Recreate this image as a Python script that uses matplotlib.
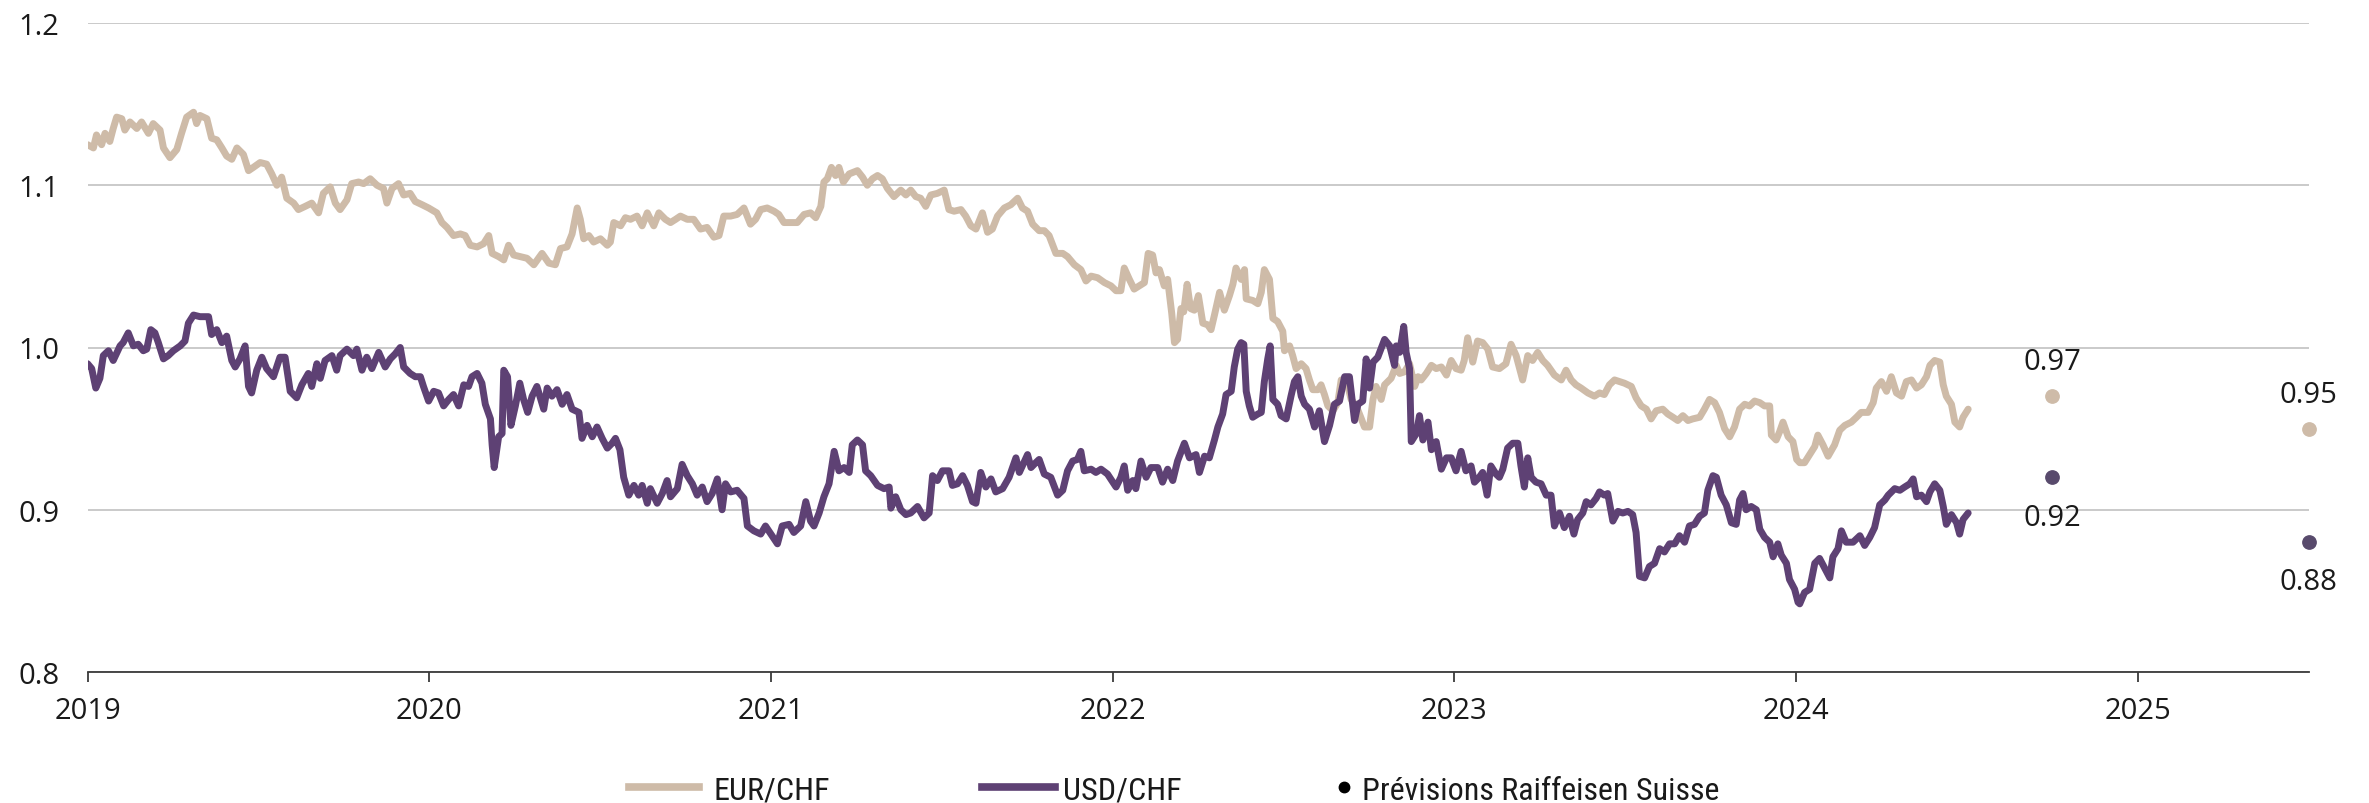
import matplotlib
matplotlib.use("Agg")
import matplotlib.pyplot as plt
from matplotlib import font_manager
from matplotlib.lines import Line2D

# ---------------- data (decimal year, rate) ----------------
eur_chf = [
    (2019.000, 1.125), (2019.017, 1.123), (2019.026, 1.131), (2019.041, 1.125), (2019.051, 1.132),
    (2019.065, 1.127), (2019.075, 1.135), (2019.085, 1.142), (2019.100, 1.141), (2019.109, 1.134),
    (2019.124, 1.139), (2019.144, 1.135), (2019.158, 1.139), (2019.178, 1.132), (2019.192, 1.138),
    (2019.212, 1.134), (2019.222, 1.123), (2019.241, 1.117), (2019.261, 1.122), (2019.275, 1.132),
    (2019.290, 1.142), (2019.310, 1.145), (2019.319, 1.138), (2019.329, 1.143), (2019.349, 1.141),
    (2019.363, 1.129), (2019.378, 1.128), (2019.393, 1.123), (2019.407, 1.118), (2019.422, 1.116),
    (2019.437, 1.123), (2019.456, 1.119), (2019.471, 1.109), (2019.485, 1.111), (2019.505, 1.114),
    (2019.524, 1.113), (2019.539, 1.107), (2019.554, 1.100), (2019.568, 1.105), (2019.583, 1.092),
    (2019.603, 1.089), (2019.617, 1.085), (2019.637, 1.087), (2019.656, 1.089), (2019.676, 1.083),
    (2019.690, 1.095), (2019.710, 1.099), (2019.725, 1.089), (2019.739, 1.085), (2019.759, 1.091),
    (2019.773, 1.101), (2019.793, 1.102), (2019.808, 1.101), (2019.827, 1.104), (2019.847, 1.100),
    (2019.866, 1.098), (2019.876, 1.089), (2019.891, 1.098), (2019.910, 1.101), (2019.925, 1.094),
    (2019.944, 1.095), (2019.959, 1.090), (2019.979, 1.088), (2019.998, 1.086),
    (2020.022, 1.083), (2020.037, 1.077), (2020.052, 1.074), (2020.071, 1.069), (2020.091, 1.070),
    (2020.105, 1.069), (2020.120, 1.063), (2020.140, 1.062), (2020.159, 1.064), (2020.174, 1.069),
    (2020.184, 1.058), (2020.203, 1.056), (2020.218, 1.054), (2020.232, 1.063), (2020.247, 1.057),
    (2020.267, 1.056), (2020.286, 1.055), (2020.306, 1.051), (2020.330, 1.058), (2020.350, 1.052),
    (2020.369, 1.051), (2020.384, 1.061), (2020.403, 1.062), (2020.418, 1.070), (2020.433, 1.086),
    (2020.442, 1.079), (2020.452, 1.067), (2020.467, 1.069), (2020.481, 1.065), (2020.501, 1.067),
    (2020.521, 1.063), (2020.530, 1.065), (2020.540, 1.077), (2020.560, 1.075), (2020.574, 1.080),
    (2020.589, 1.079), (2020.608, 1.081), (2020.623, 1.075), (2020.638, 1.083), (2020.657, 1.075),
    (2020.672, 1.083), (2020.691, 1.079), (2020.706, 1.077), (2020.721, 1.079), (2020.735, 1.081),
    (2020.755, 1.079), (2020.774, 1.079), (2020.794, 1.073), (2020.813, 1.074), (2020.833, 1.068),
    (2020.848, 1.069), (2020.862, 1.081), (2020.882, 1.081), (2020.901, 1.082), (2020.921, 1.086),
    (2020.940, 1.076), (2020.955, 1.079), (2020.970, 1.085), (2020.989, 1.086),
    (2021.009, 1.084), (2021.023, 1.082), (2021.038, 1.077), (2021.058, 1.077), (2021.077, 1.077),
    (2021.097, 1.082), (2021.116, 1.083), (2021.131, 1.080), (2021.146, 1.087), (2021.155, 1.102),
    (2021.165, 1.104), (2021.177, 1.111), (2021.189, 1.106), (2021.199, 1.111), (2021.212, 1.102),
    (2021.229, 1.107), (2021.253, 1.109), (2021.268, 1.105), (2021.282, 1.100), (2021.297, 1.104),
    (2021.312, 1.106), (2021.326, 1.104), (2021.341, 1.098), (2021.360, 1.093), (2021.380, 1.097),
    (2021.395, 1.094), (2021.409, 1.097), (2021.424, 1.093), (2021.438, 1.092), (2021.453, 1.087),
    (2021.468, 1.094), (2021.487, 1.095), (2021.507, 1.097), (2021.521, 1.085), (2021.536, 1.084),
    (2021.556, 1.085), (2021.570, 1.081), (2021.585, 1.075), (2021.600, 1.073), (2021.619, 1.083),
    (2021.634, 1.071), (2021.648, 1.073), (2021.663, 1.081), (2021.683, 1.086), (2021.702, 1.088),
    (2021.722, 1.092), (2021.736, 1.086), (2021.751, 1.084), (2021.766, 1.076), (2021.785, 1.072),
    (2021.800, 1.072), (2021.814, 1.069), (2021.834, 1.058), (2021.854, 1.058), (2021.868, 1.056),
    (2021.888, 1.051), (2021.907, 1.048), (2021.922, 1.041), (2021.937, 1.044), (2021.956, 1.043),
    (2021.976, 1.040), (2021.995, 1.038),
    (2022.010, 1.035), (2022.024, 1.035), (2022.034, 1.049), (2022.049, 1.042), (2022.063, 1.036),
    (2022.078, 1.038), (2022.093, 1.040), (2022.104, 1.058), (2022.117, 1.057), (2022.127, 1.046),
    (2022.137, 1.048), (2022.151, 1.038), (2022.161, 1.042), (2022.173, 1.021), (2022.181, 1.003),
    (2022.190, 1.005), (2022.200, 1.024), (2022.208, 1.022), (2022.218, 1.039), (2022.228, 1.024),
    (2022.239, 1.023), (2022.251, 1.032), (2022.264, 1.015), (2022.278, 1.014), (2022.288, 1.011),
    (2022.298, 1.020), (2022.313, 1.034), (2022.327, 1.023), (2022.342, 1.032), (2022.352, 1.039),
    (2022.361, 1.049), (2022.376, 1.042), (2022.386, 1.048), (2022.391, 1.030), (2022.410, 1.029),
    (2022.425, 1.027), (2022.435, 1.034), (2022.444, 1.048), (2022.459, 1.042), (2022.469, 1.018),
    (2022.483, 1.016), (2022.498, 1.010), (2022.503, 0.998), (2022.518, 1.001), (2022.527, 0.995),
    (2022.537, 0.987), (2022.552, 0.990), (2022.566, 0.987), (2022.576, 0.980), (2022.586, 0.974),
    (2022.601, 0.974), (2022.610, 0.977), (2022.620, 0.971), (2022.630, 0.964), (2022.645, 0.961),
    (2022.659, 0.966), (2022.669, 0.980), (2022.684, 0.980), (2022.698, 0.968), (2022.713, 0.964),
    (2022.728, 0.956), (2022.737, 0.951), (2022.752, 0.951), (2022.762, 0.968), (2022.771, 0.976),
    (2022.786, 0.968), (2022.796, 0.977), (2022.815, 0.981), (2022.830, 0.989), (2022.840, 0.984),
    (2022.854, 0.985), (2022.869, 0.990), (2022.884, 0.976), (2022.894, 0.982), (2022.903, 0.980),
    (2022.918, 0.984), (2022.933, 0.989), (2022.947, 0.987), (2022.962, 0.988), (2022.977, 0.983),
    (2022.991, 0.992),
    (2023.005, 0.987), (2023.020, 0.986), (2023.029, 0.992), (2023.039, 1.006), (2023.054, 0.991),
    (2023.068, 1.004), (2023.083, 1.003), (2023.098, 0.999), (2023.112, 0.988), (2023.132, 0.987),
    (2023.151, 0.990), (2023.166, 1.002), (2023.181, 0.995), (2023.200, 0.980), (2023.215, 0.995),
    (2023.229, 0.992), (2023.244, 0.997), (2023.259, 0.992), (2023.273, 0.989), (2023.293, 0.983),
    (2023.313, 0.980), (2023.327, 0.986), (2023.342, 0.980), (2023.356, 0.977), (2023.371, 0.975),
    (2023.391, 0.972), (2023.410, 0.970), (2023.425, 0.972), (2023.439, 0.971), (2023.454, 0.977),
    (2023.469, 0.980), (2023.483, 0.979), (2023.498, 0.978), (2023.518, 0.976), (2023.532, 0.969),
    (2023.547, 0.964), (2023.562, 0.962), (2023.576, 0.956), (2023.591, 0.961), (2023.610, 0.962),
    (2023.625, 0.959), (2023.640, 0.957), (2023.654, 0.955), (2023.669, 0.958), (2023.684, 0.955),
    (2023.698, 0.956), (2023.718, 0.957), (2023.732, 0.962), (2023.747, 0.968), (2023.762, 0.966),
    (2023.776, 0.960), (2023.791, 0.950), (2023.806, 0.945), (2023.820, 0.951), (2023.835, 0.962),
    (2023.850, 0.965), (2023.864, 0.964), (2023.879, 0.967), (2023.894, 0.966), (2023.908, 0.964),
    (2023.923, 0.964), (2023.928, 0.946), (2023.942, 0.943), (2023.952, 0.948), (2023.962, 0.954),
    (2023.977, 0.945), (2023.991, 0.942), (2024.002, 0.931),
    (2024.011, 0.929), (2024.025, 0.929), (2024.040, 0.934), (2024.055, 0.939), (2024.064, 0.946),
    (2024.079, 0.940), (2024.094, 0.933), (2024.113, 0.940), (2024.128, 0.949), (2024.143, 0.952),
    (2024.162, 0.954), (2024.177, 0.957), (2024.191, 0.960), (2024.211, 0.960), (2024.226, 0.966),
    (2024.235, 0.975), (2024.250, 0.979), (2024.265, 0.973), (2024.279, 0.982), (2024.294, 0.972),
    (2024.309, 0.970), (2024.323, 0.979), (2024.338, 0.980), (2024.353, 0.975), (2024.367, 0.977),
    (2024.382, 0.982), (2024.392, 0.989), (2024.406, 0.992), (2024.421, 0.991), (2024.431, 0.977),
    (2024.440, 0.970), (2024.455, 0.965), (2024.465, 0.954), (2024.479, 0.951), (2024.489, 0.957),
    (2024.504, 0.962),
]

usd_chf = [
    (2019.000, 0.990), (2019.012, 0.987), (2019.024, 0.975), (2019.036, 0.981), (2019.046, 0.995),
    (2019.061, 0.998), (2019.075, 0.992), (2019.095, 1.001), (2019.104, 1.003), (2019.119, 1.009),
    (2019.134, 1.001), (2019.148, 1.002), (2019.163, 0.998), (2019.173, 0.999), (2019.185, 1.011),
    (2019.197, 1.009), (2019.207, 1.003), (2019.222, 0.993), (2019.236, 0.995), (2019.251, 0.998),
    (2019.271, 1.001), (2019.285, 1.004), (2019.295, 1.015), (2019.310, 1.020), (2019.329, 1.019),
    (2019.344, 1.019), (2019.354, 1.019), (2019.363, 1.008), (2019.378, 1.011), (2019.393, 1.003),
    (2019.407, 1.007), (2019.422, 0.992), (2019.432, 0.988), (2019.446, 0.993), (2019.461, 1.001),
    (2019.471, 0.976), (2019.480, 0.972), (2019.495, 0.986), (2019.510, 0.994), (2019.524, 0.987),
    (2019.544, 0.982), (2019.563, 0.994), (2019.578, 0.994), (2019.593, 0.973), (2019.612, 0.969),
    (2019.627, 0.977), (2019.646, 0.984), (2019.656, 0.976), (2019.671, 0.990), (2019.681, 0.981),
    (2019.695, 0.992), (2019.715, 0.995), (2019.729, 0.986), (2019.739, 0.995), (2019.759, 0.999),
    (2019.778, 0.995), (2019.788, 0.999), (2019.803, 0.986), (2019.817, 0.994), (2019.832, 0.987),
    (2019.852, 0.997), (2019.871, 0.988), (2019.886, 0.993), (2019.900, 0.996), (2019.915, 1.000),
    (2019.925, 0.988), (2019.944, 0.984), (2019.959, 0.982), (2019.974, 0.982), (2019.983, 0.976),
    (2019.998, 0.967),
    (2020.013, 0.973), (2020.027, 0.972), (2020.042, 0.964), (2020.057, 0.968), (2020.071, 0.971),
    (2020.086, 0.964), (2020.101, 0.977), (2020.115, 0.976), (2020.125, 0.982), (2020.140, 0.984),
    (2020.154, 0.978), (2020.164, 0.965), (2020.179, 0.956), (2020.184, 0.940), (2020.190, 0.926),
    (2020.203, 0.945), (2020.213, 0.947), (2020.218, 0.986), (2020.229, 0.982), (2020.239, 0.952),
    (2020.252, 0.964), (2020.265, 0.978), (2020.276, 0.968), (2020.288, 0.960), (2020.301, 0.970),
    (2020.315, 0.976), (2020.335, 0.962), (2020.345, 0.975), (2020.359, 0.970), (2020.374, 0.974),
    (2020.389, 0.965), (2020.403, 0.971), (2020.418, 0.962), (2020.438, 0.960), (2020.447, 0.944),
    (2020.462, 0.952), (2020.477, 0.945), (2020.491, 0.951), (2020.506, 0.944), (2020.521, 0.938),
    (2020.535, 0.941), (2020.545, 0.944), (2020.558, 0.937), (2020.569, 0.920), (2020.584, 0.909),
    (2020.599, 0.915), (2020.613, 0.909), (2020.623, 0.915), (2020.638, 0.904), (2020.647, 0.913),
    (2020.667, 0.904), (2020.682, 0.910), (2020.696, 0.918), (2020.706, 0.908), (2020.726, 0.913),
    (2020.740, 0.928), (2020.755, 0.921), (2020.770, 0.916), (2020.784, 0.909), (2020.799, 0.914),
    (2020.813, 0.905), (2020.828, 0.910), (2020.843, 0.919), (2020.857, 0.900), (2020.867, 0.916),
    (2020.882, 0.911), (2020.901, 0.912), (2020.921, 0.907), (2020.931, 0.890), (2020.950, 0.887),
    (2020.970, 0.885), (2020.984, 0.890),
    (2021.000, 0.885), (2021.019, 0.879), (2021.033, 0.890), (2021.053, 0.891), (2021.067, 0.886),
    (2021.087, 0.890), (2021.102, 0.905), (2021.116, 0.893), (2021.126, 0.890), (2021.141, 0.898),
    (2021.155, 0.908), (2021.170, 0.916), (2021.185, 0.936), (2021.199, 0.924), (2021.214, 0.926),
    (2021.229, 0.923), (2021.238, 0.940), (2021.253, 0.943), (2021.268, 0.940), (2021.277, 0.924),
    (2021.292, 0.921), (2021.312, 0.915), (2021.331, 0.913), (2021.346, 0.914), (2021.351, 0.901),
    (2021.365, 0.908), (2021.380, 0.900), (2021.395, 0.897), (2021.409, 0.898), (2021.429, 0.902),
    (2021.448, 0.895), (2021.463, 0.898), (2021.473, 0.921), (2021.487, 0.918), (2021.502, 0.924),
    (2021.521, 0.924), (2021.531, 0.915), (2021.546, 0.916), (2021.561, 0.921), (2021.575, 0.915),
    (2021.590, 0.905), (2021.600, 0.904), (2021.614, 0.923), (2021.629, 0.914), (2021.644, 0.919),
    (2021.658, 0.911), (2021.678, 0.913), (2021.697, 0.920), (2021.717, 0.932), (2021.727, 0.923),
    (2021.751, 0.934), (2021.761, 0.926), (2021.775, 0.929), (2021.785, 0.931), (2021.800, 0.922),
    (2021.819, 0.920), (2021.839, 0.909), (2021.854, 0.912), (2021.868, 0.924), (2021.883, 0.930),
    (2021.897, 0.931), (2021.907, 0.936), (2021.917, 0.924), (2021.937, 0.925), (2021.951, 0.923),
    (2021.966, 0.925), (2021.985, 0.922),
    (2022.010, 0.914), (2022.024, 0.920), (2022.034, 0.927), (2022.044, 0.912), (2022.059, 0.918),
    (2022.068, 0.913), (2022.083, 0.930), (2022.098, 0.920), (2022.112, 0.926), (2022.132, 0.926),
    (2022.146, 0.917), (2022.161, 0.925), (2022.176, 0.918), (2022.190, 0.930), (2022.210, 0.941),
    (2022.225, 0.932), (2022.244, 0.934), (2022.254, 0.923), (2022.269, 0.933), (2022.283, 0.932),
    (2022.298, 0.943), (2022.308, 0.951), (2022.322, 0.959), (2022.332, 0.971), (2022.347, 0.973),
    (2022.356, 0.988), (2022.366, 0.999), (2022.376, 1.003), (2022.384, 1.002), (2022.391, 0.973),
    (2022.400, 0.964), (2022.410, 0.957), (2022.425, 0.959), (2022.435, 0.960), (2022.444, 0.979),
    (2022.454, 0.993), (2022.461, 1.001), (2022.469, 0.968), (2022.483, 0.965), (2022.493, 0.958),
    (2022.508, 0.956), (2022.522, 0.970), (2022.532, 0.979), (2022.542, 0.982), (2022.552, 0.970),
    (2022.562, 0.965), (2022.576, 0.962), (2022.591, 0.951), (2022.605, 0.961), (2022.620, 0.942),
    (2022.635, 0.952), (2022.649, 0.965), (2022.664, 0.967), (2022.679, 0.982), (2022.693, 0.982),
    (2022.708, 0.955), (2022.718, 0.965), (2022.732, 0.967), (2022.742, 0.993), (2022.752, 0.975),
    (2022.762, 0.991), (2022.776, 0.994), (2022.796, 1.005), (2022.811, 1.001), (2022.825, 0.989),
    (2022.830, 1.001), (2022.840, 0.997), (2022.852, 1.013), (2022.859, 0.997), (2022.869, 0.987),
    (2022.874, 0.942), (2022.889, 0.947), (2022.898, 0.958), (2022.908, 0.943), (2022.923, 0.954),
    (2022.933, 0.937), (2022.947, 0.942), (2022.962, 0.925), (2022.977, 0.932), (2022.991, 0.932),
    (2023.005, 0.924), (2023.020, 0.936), (2023.034, 0.924), (2023.049, 0.927), (2023.059, 0.917),
    (2023.073, 0.920), (2023.083, 0.923), (2023.096, 0.909), (2023.107, 0.927), (2023.122, 0.922),
    (2023.132, 0.920), (2023.142, 0.925), (2023.156, 0.938), (2023.171, 0.941), (2023.186, 0.941),
    (2023.195, 0.927), (2023.205, 0.914), (2023.215, 0.932), (2023.225, 0.920), (2023.239, 0.917),
    (2023.254, 0.916), (2023.269, 0.909), (2023.283, 0.909), (2023.293, 0.890), (2023.308, 0.898),
    (2023.322, 0.889), (2023.337, 0.896), (2023.350, 0.885), (2023.361, 0.894), (2023.376, 0.898),
    (2023.386, 0.905), (2023.400, 0.903), (2023.415, 0.907), (2023.425, 0.911), (2023.439, 0.909),
    (2023.449, 0.910), (2023.464, 0.893), (2023.479, 0.899), (2023.493, 0.898), (2023.508, 0.899),
    (2023.522, 0.897), (2023.532, 0.886), (2023.542, 0.859), (2023.557, 0.858), (2023.571, 0.865),
    (2023.586, 0.867), (2023.601, 0.876), (2023.615, 0.874), (2023.630, 0.879), (2023.645, 0.879),
    (2023.659, 0.884), (2023.674, 0.880), (2023.688, 0.890), (2023.703, 0.891), (2023.718, 0.896),
    (2023.732, 0.898), (2023.742, 0.912), (2023.757, 0.921), (2023.767, 0.920), (2023.781, 0.909),
    (2023.796, 0.903), (2023.811, 0.892), (2023.825, 0.891), (2023.835, 0.906), (2023.845, 0.910),
    (2023.854, 0.900), (2023.869, 0.902), (2023.884, 0.900), (2023.894, 0.888), (2023.908, 0.883),
    (2023.923, 0.880), (2023.933, 0.871), (2023.947, 0.879), (2023.957, 0.872), (2023.972, 0.867),
    (2023.981, 0.857), (2023.996, 0.851), (2024.006, 0.843),
    (2024.011, 0.842), (2024.025, 0.849), (2024.040, 0.851), (2024.055, 0.867), (2024.069, 0.870),
    (2024.084, 0.864), (2024.099, 0.858), (2024.108, 0.871), (2024.123, 0.876), (2024.133, 0.887),
    (2024.147, 0.880), (2024.167, 0.880), (2024.187, 0.884), (2024.201, 0.878), (2024.216, 0.883),
    (2024.230, 0.889), (2024.245, 0.903), (2024.260, 0.906), (2024.270, 0.909), (2024.289, 0.913),
    (2024.304, 0.912), (2024.318, 0.914), (2024.333, 0.916), (2024.343, 0.919), (2024.353, 0.908),
    (2024.367, 0.909), (2024.382, 0.905), (2024.392, 0.911), (2024.406, 0.916), (2024.421, 0.912),
    (2024.431, 0.902), (2024.440, 0.891), (2024.455, 0.897), (2024.470, 0.892), (2024.479, 0.885),
    (2024.489, 0.894), (2024.504, 0.898),
]

forecast_dates = [2024.75, 2025.5]
forecast_eur = [0.97, 0.95]
forecast_usd = [0.92, 0.88]

year_ticks = [2019, 2020, 2021, 2022, 2023, 2024, 2025]
y_ticks = [0.8, 0.9, 1.0, 1.1, 1.2]

series_labels = ["EUR/CHF", "USD/CHF"]
forecast_label = "Prévisions Raiffeisen Suisse"

# ---------------- style ----------------
EUR_COLOR = "#CEBBA8"
USD_COLOR = "#5E4174"
USD_DOT = "#584A6C"
GRID = "#C6C6C6"
TEXT = "#1A1A1A"
AXIS = "#3A3A3A"

available = {f.name for f in font_manager.fontManager.ttflist}
def pick(*names):
    for n in names:
        if n in available:
            return n
    return "DejaVu Sans"

MAIN_FONT = pick("Open Sans", "Noto Sans", "DejaVu Sans")
COND_FONT = pick("Roboto Condensed", "Liberation Sans Narrow", "Open Sans Condensed",
                 "DejaVu Sans Condensed", "Noto Sans Condensed", MAIN_FONT)

plt.rcParams["font.family"] = [MAIN_FONT, "DejaVu Sans"]

W, H = 2369, 804
fig = plt.figure(figsize=(W / 100, H / 100), dpi=100)
ax = fig.add_axes([87.6 / W, 1 - 673 / H, (2308.5 - 87.6) / W, (673 - 24) / H])

ex, ey = zip(*eur_chf)
ux, uy = zip(*usd_chf)
ax.plot(ex, ey, color=EUR_COLOR, lw=5.0, solid_joinstyle="round", solid_capstyle="round", zorder=3)
ax.plot(ux, uy, color=USD_COLOR, lw=5.0, solid_joinstyle="round", solid_capstyle="round", zorder=4)

ax.plot(forecast_dates, forecast_eur, ls="none", marker="o", ms=9.6, color=EUR_COLOR, zorder=5, clip_on=False)
ax.plot(forecast_dates, forecast_usd, ls="none", marker="o", ms=9.6, color=USD_DOT, zorder=5, clip_on=False)

for x, v in zip(forecast_dates, forecast_eur):
    ax.annotate(f"{v:.2f}", (x, v), xytext=(0, 19.5), textcoords="offset points",
                ha="center", va="baseline", fontsize=21, color=TEXT, annotation_clip=False)
for x, v in zip(forecast_dates, forecast_usd):
    ax.annotate(f"{v:.2f}", (x, v), xytext=(0, -34), textcoords="offset points",
                ha="center", va="baseline", fontsize=21, color=TEXT, annotation_clip=False)

ax.set_xlim(2019, 2025.5)
ax.set_ylim(0.8, 1.2)
ax.set_xticks(year_ticks)
ax.set_xticklabels([str(y) for y in year_ticks])
ax.set_yticks(y_ticks)
ax.set_yticklabels([f"{v:.1f}" for v in y_ticks])

ax.tick_params(axis="x", direction="out", length=7.2, width=1.3, color=AXIS,
               labelsize=21, labelcolor=TEXT, pad=10)
ax.tick_params(axis="y", length=0, labelsize=21, labelcolor=TEXT, pad=20.5)

for s in ("top", "right", "left"):
    ax.spines[s].set_visible(False)
ax.spines["bottom"].set_color(AXIS)
ax.spines["bottom"].set_linewidth(1.3)
ax.spines["bottom"].set_zorder(6)

ax.yaxis.grid(True, color=GRID, lw=1.3)
ax.set_axisbelow(True)

# ---------------- legend (three single-entry legends placed along the bottom) ----------------
LEG_Y = 0.016
leg_font = {"family": COND_FONT, "size": 23}
entries = [
    (Line2D([], [], color=EUR_COLOR, lw=5.5), series_labels[0], 629 / W, 2.2, 0.45),
    (Line2D([], [], color=USD_COLOR, lw=5.5), series_labels[1], 982 / W, 2.3, 0.25),
    (Line2D([], [], ls="none", marker="o", ms=7.5, color="black"), forecast_label, 1334 / W, 0.6, 0.28),
]
for handle, label, x0, hl, pad in entries:
    fig.legend([handle], [label], loc="center left", bbox_to_anchor=(x0, LEG_Y),
               frameon=False, prop=leg_font, handlelength=hl, handletextpad=pad,
               borderpad=0, borderaxespad=0, labelcolor=TEXT)

fig.savefig("out.png", dpi=100)
